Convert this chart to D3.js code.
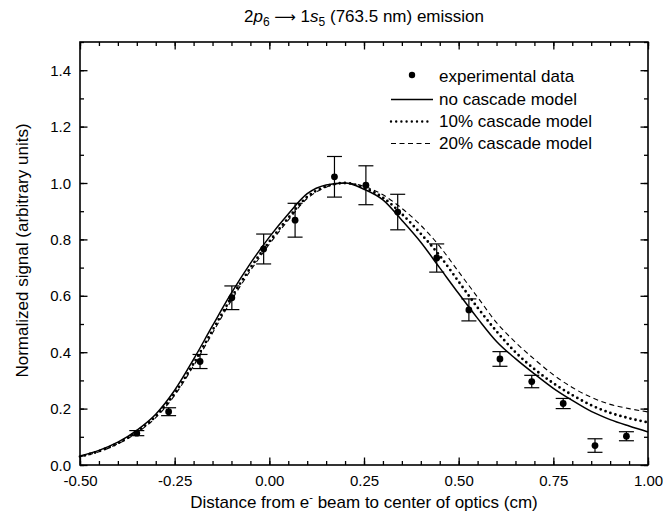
<!DOCTYPE html>
<html>
<head>
<meta charset="utf-8">
<script src="https://cdn.jsdelivr.net/npm/d3@7"></script>
<style>
  body { margin: 0; background: #fff; }
  svg { display: block; font-family: "Liberation Sans", Arial, sans-serif; }
</style>
</head>
<body>
<div id="chart"></div>
<script>
// experimental points (distance in cm, normalized signal, error half-width)
const obsX = [-0.350, -0.266, -0.183, -0.099, -0.015, 0.068, 0.172, 0.255, 0.339, 0.442, 0.527, 0.609, 0.693, 0.776, 0.860, 0.943];
const obsY = [0.113, 0.189, 0.367, 0.593, 0.766, 0.868, 1.022, 0.992, 0.897, 0.734, 0.550, 0.376, 0.296, 0.218, 0.069, 0.102];
const obsErr = [0.009, 0.014, 0.025, 0.042, 0.053, 0.060, 0.072, 0.069, 0.063, 0.050, 0.039, 0.026, 0.022, 0.018, 0.024, 0.016];

// model curves
const modelX = [-0.50, -0.45, -0.40, -0.35, -0.30, -0.25, -0.20, -0.15, -0.10, -0.05, 0.00, 0.05, 0.10, 0.15, 0.20,
                0.25, 0.30, 0.35, 0.40, 0.45, 0.50, 0.55, 0.60, 0.65, 0.70, 0.75, 0.80, 0.85, 0.90, 0.95, 1.00];
const noCascade = [0.032, 0.052, 0.081, 0.123, 0.180, 0.265, 0.375, 0.494, 0.610, 0.715, 0.808, 0.890, 0.962, 0.993, 1.000,
                   0.978, 0.940, 0.868, 0.790, 0.699, 0.608, 0.520, 0.438, 0.377, 0.323, 0.272, 0.229, 0.190, 0.161, 0.138, 0.117];
const cascade10 = [0.030, 0.049, 0.077, 0.118, 0.173, 0.254, 0.360, 0.478, 0.594, 0.699, 0.792, 0.876, 0.951, 0.988, 1.000,
                   0.983, 0.948, 0.890, 0.820, 0.742, 0.650, 0.558, 0.474, 0.400, 0.340, 0.290, 0.248, 0.212, 0.185, 0.166, 0.151];
const cascade20 = [0.029, 0.047, 0.075, 0.114, 0.168, 0.247, 0.352, 0.468, 0.584, 0.689, 0.783, 0.868, 0.945, 0.985, 1.000,
                   0.988, 0.958, 0.910, 0.850, 0.775, 0.685, 0.595, 0.505, 0.435, 0.375, 0.320, 0.275, 0.240, 0.215, 0.200, 0.188];

const xMajor = [-0.50, -0.25, 0.00, 0.25, 0.50, 0.75, 1.00];
const yMajor = [0.0, 0.2, 0.4, 0.6, 0.8, 1.0, 1.2, 1.4];

const legendLabels = ["experimental data", "no cascade model", "10% cascade model", "20% cascade model"];

let w = 663;
let h = 516;
let margin = {top: 42, right: 15, bottom: 51, left: 80};

let svg = d3.select("#chart")
  .append("svg")
    .attr("width", w)
    .attr("height", h);

let x = d3.scaleLinear().domain([-0.5, 1.0]).range([margin.left, w - margin.right]);
let y = d3.scaleLinear().domain([0, 1.5]).range([h - margin.bottom, margin.top]);

let x0 = x.range()[0], x1 = x.range()[1];
let y0 = y.range()[0], y1 = y.range()[1];

// plain hyphen for negative numbers, like the original
let loc = d3.formatLocale({decimal: ".", thousands: ",", grouping: [3], currency: ["", ""], minus: "-"});

// minor ticks
let xMinor = d3.range(-0.5, 1.0001, 0.05).map(v => +v.toFixed(2));
let yMinor = d3.range(0, 1.5001, 0.1).map(v => +v.toFixed(1));

function tickAxis(axisFn, scale, vals, size, fmt) {
  return axisFn(scale).tickValues(vals).tickSizeInner(-size).tickSizeOuter(0)
    .tickPadding(size + 5).tickFormat(fmt || (() => ""));
}

let axes = svg.append("g").attr("class", "axes");

// bottom
axes.append("g").attr("transform", `translate(0,${y0})`)
  .call(tickAxis(d3.axisBottom, x, xMinor, 4));
axes.append("g").attr("class", "xlabels").attr("transform", `translate(0,${y0})`)
  .call(tickAxis(d3.axisBottom, x, xMajor, 7.5, loc.format(".2f")).tickPadding(10));
// top
axes.append("g").attr("transform", `translate(0,${y1})`)
  .call(tickAxis(d3.axisTop, x, xMinor, 4));
axes.append("g").attr("transform", `translate(0,${y1})`)
  .call(tickAxis(d3.axisTop, x, xMajor, 7.5));
// left
axes.append("g").attr("transform", `translate(${x0},0)`)
  .call(tickAxis(d3.axisLeft, y, yMinor, 4));
axes.append("g").attr("class", "ylabels").attr("transform", `translate(${x0},0)`)
  .call(tickAxis(d3.axisLeft, y, yMajor, 7.5, loc.format(".1f")).tickPadding(9));
// right
axes.append("g").attr("transform", `translate(${x1},0)`)
  .call(tickAxis(d3.axisRight, y, yMinor, 4));
axes.append("g").attr("transform", `translate(${x1},0)`)
  .call(tickAxis(d3.axisRight, y, yMajor, 7.5));

axes.selectAll(".domain").remove();
axes.selectAll("line").attr("stroke", "#000").attr("stroke-width", 1.3);
axes.selectAll("text").attr("fill", "#000").attr("font-size", "15px")
  .attr("font-family", "Liberation Sans, Arial, sans-serif");
axes.selectAll(".ylabels text").attr("dy", "0.34em");

// frame
svg.append("rect")
  .attr("x", x0).attr("y", y1)
  .attr("width", x1 - x0).attr("height", y0 - y1)
  .attr("fill", "none").attr("stroke", "#000").attr("stroke-width", 1.6);

// curves
let line = d3.line().x(d => x(d[0])).y(d => y(d[1])).curve(d3.curveMonotoneX);
let curves = [
  {vals: noCascade, dash: null, width: 1.5, cap: "butt"},
  {vals: cascade10, dash: "0,5.2", width: 2.8, cap: "round"},
  {vals: cascade20, dash: "5,3.5", width: 1.1, cap: "butt"}
];
let curveGroup = svg.append("g").attr("class", "curves");
curves.forEach(c => {
  curveGroup.append("path")
    .datum(modelX.map((v, i) => [v, c.vals[i]]))
    .attr("d", line)
    .attr("fill", "none")
    .attr("stroke", "#000")
    .attr("stroke-width", c.width)
    .attr("stroke-linecap", c.cap)
    .attr("stroke-dasharray", c.dash);
});

// data points with error bars
let obs = obsX.map((v, i) => ({x: v, y: obsY[i], e: obsErr[i]}));
let pts = svg.append("g").attr("class", "points").selectAll("g").data(obs).enter().append("g");
pts.append("line")
  .attr("x1", d => x(d.x)).attr("x2", d => x(d.x))
  .attr("y1", d => y(d.y - d.e)).attr("y2", d => y(d.y + d.e))
  .attr("stroke", "#000").attr("stroke-width", 1.2);
[-1, 1].forEach(s => {
  pts.append("line")
    .attr("x1", d => x(d.x) - 7.5).attr("x2", d => x(d.x) + 7.5)
    .attr("y1", d => y(d.y + s * d.e)).attr("y2", d => y(d.y + s * d.e))
    .attr("stroke", "#000").attr("stroke-width", 1.2);
});
pts.append("circle")
  .attr("cx", d => x(d.x)).attr("cy", d => y(d.y))
  .attr("r", 3.4).attr("fill", "#000");

// legend
let legend = svg.append("g").attr("class", "legend").attr("font-size", "17px");
let legY = [76, 99.5, 121.5, 143.5];
legend.append("circle").attr("cx", 412).attr("cy", legY[0] - 1).attr("r", 3.2).attr("fill", "#000");
curves.forEach((c, i) => {
  legend.append("line")
    .attr("x1", 391).attr("x2", i === 1 ? 431 : 433)
    .attr("y1", legY[i + 1]).attr("y2", legY[i + 1])
    .attr("stroke", "#000")
    .attr("stroke-width", i === 1 ? 2.4 : c.width)
    .attr("stroke-linecap", c.cap)
    .attr("stroke-dasharray", c.dash);
});
legend.selectAll("text").data(legendLabels).enter().append("text")
  .attr("x", 439).attr("y", (d, i) => legY[i])
  .attr("dy", "0.35em")
  .text(d => d);

// title
let title = svg.append("text")
  .attr("x", (x0 + x1) / 2).attr("y", 22)
  .attr("text-anchor", "middle")
  .attr("font-size", "17px");
title.append("tspan").text("2");
title.append("tspan").attr("font-style", "italic").text("p");
title.append("tspan").attr("font-size", "12px").attr("dy", 4).text("6");
title.append("tspan").attr("dy", -4).text(" ");
title.append("tspan").attr("font-family", "DejaVu Sans").attr("font-size", "15px").text("\u27F6");
title.append("tspan").text(" 1");
title.append("tspan").attr("font-style", "italic").text("s");
title.append("tspan").attr("font-size", "12px").attr("dy", 4).text("5");
title.append("tspan").attr("dy", -4).text(" (763.5 nm) emission");

// x axis label
let xl = svg.append("text")
  .attr("x", (x0 + x1) / 2).attr("y", 508)
  .attr("text-anchor", "middle")
  .attr("font-size", "17px");
xl.append("tspan").text("Distance from e");
xl.append("tspan").attr("font-size", "11px").attr("dy", -7).text("-");
xl.append("tspan").attr("dy", 7).text(" beam to center of optics (cm)");

// y axis label
svg.append("text")
  .attr("transform", `translate(27.5,250.5) rotate(-90)`)
  .attr("text-anchor", "middle")
  .attr("font-size", "17px")
  .text("Normalized signal (arbitrary units)");
</script>
</body>
</html>
